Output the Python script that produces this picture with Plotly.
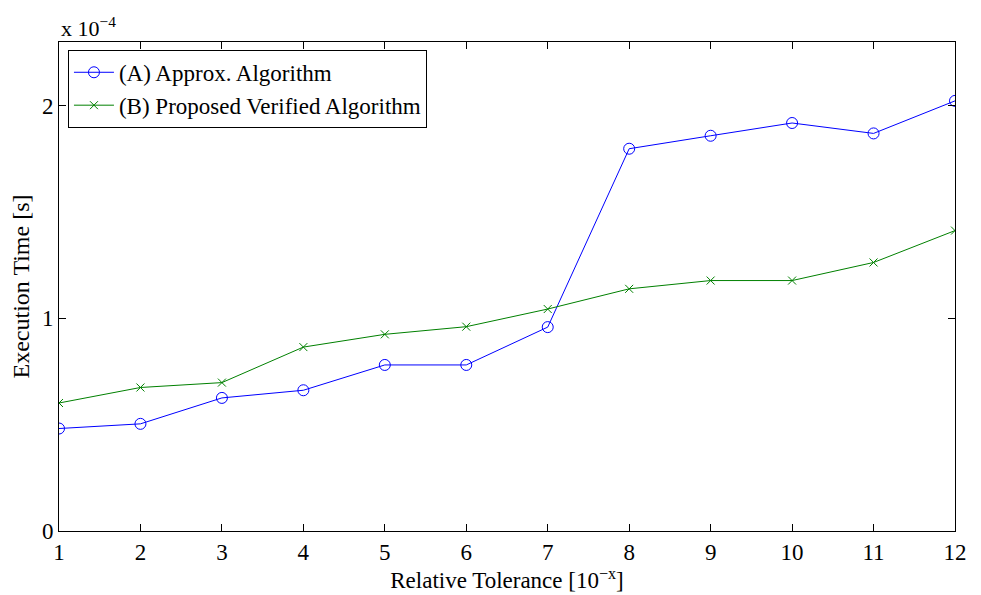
import plotly.graph_objects as go

tolerance = list(range(1, 13))
approx_time = [0.482e-4, 0.504e-4, 0.626e-4, 0.662e-4, 0.781e-4, 0.781e-4,
               0.959e-4, 1.798e-4, 1.859e-4, 1.919e-4, 1.870e-4, 2.023e-4]
verified_time = [0.602e-4, 0.675e-4, 0.698e-4, 0.865e-4, 0.925e-4, 0.961e-4,
                 1.044e-4, 1.139e-4, 1.178e-4, 1.178e-4, 1.263e-4, 1.413e-4]
ytick_vals = [0, 1e-4, 2e-4]
ytick_text = ["0", "1", "2"]

FONT = "Liberation Serif, Times New Roman, serif"

fig = go.Figure()
fig.add_trace(go.Scatter(
    x=tolerance, y=approx_time, mode="lines+markers",
    name="(A) Approx. Algorithm",
    line=dict(color="#0000FF", width=1),
    marker=dict(symbol="circle-open", size=11, color="#0000FF", line=dict(width=1)),
))
fig.add_trace(go.Scatter(
    x=tolerance, y=verified_time, mode="lines+markers",
    name="(B) Proposed Verified Algorithm",
    line=dict(color="#008000", width=1),
    marker=dict(symbol="x-thin-open", size=8, color="#008000", line=dict(width=1, color="#008000")),
))

axis_common = dict(
    showgrid=False, zeroline=False, showline=True, linecolor="black", linewidth=1,
    mirror="ticks", ticks="inside", ticklen=7, tickcolor="black",
    tickfont=dict(family=FONT, size=23, color="black"),
    automargin=False,
)

fig.update_layout(
    width=981, height=595,
    margin=dict(l=51, r=34, t=34, b=72),
    paper_bgcolor="white", plot_bgcolor="white",
    font=dict(family=FONT, color="black"),
    showlegend=True,
    legend=dict(
        x=0.01, y=0.984, xanchor="left", yanchor="top",
        bgcolor="white", bordercolor="black", borderwidth=1,
        font=dict(family=FONT, size=23, color="black"),
        tracegroupgap=0, itemwidth=40,
    ),
    xaxis=dict(
        range=[1, 12], tickvals=tolerance,
        title=dict(text="Relative Tolerance [10<sup>−x</sup>]", font=dict(family=FONT, size=23), standoff=4),
        **axis_common,
    ),
    yaxis=dict(
        range=[0, 2.3e-4], tickvals=ytick_vals, ticktext=ytick_text,
        title=dict(text="Execution Time [s]", font=dict(family=FONT, size=24), standoff=10),
        **axis_common,
    ),
)

fig.add_annotation(
    text="x 10<sup>−4</sup>", xref="paper", yref="paper", x=0, y=1.0,
    xanchor="left", yanchor="bottom", showarrow=False, yshift=-1,
    font=dict(family=FONT, size=22, color="black"),
)

fig.write_html("out.html")
